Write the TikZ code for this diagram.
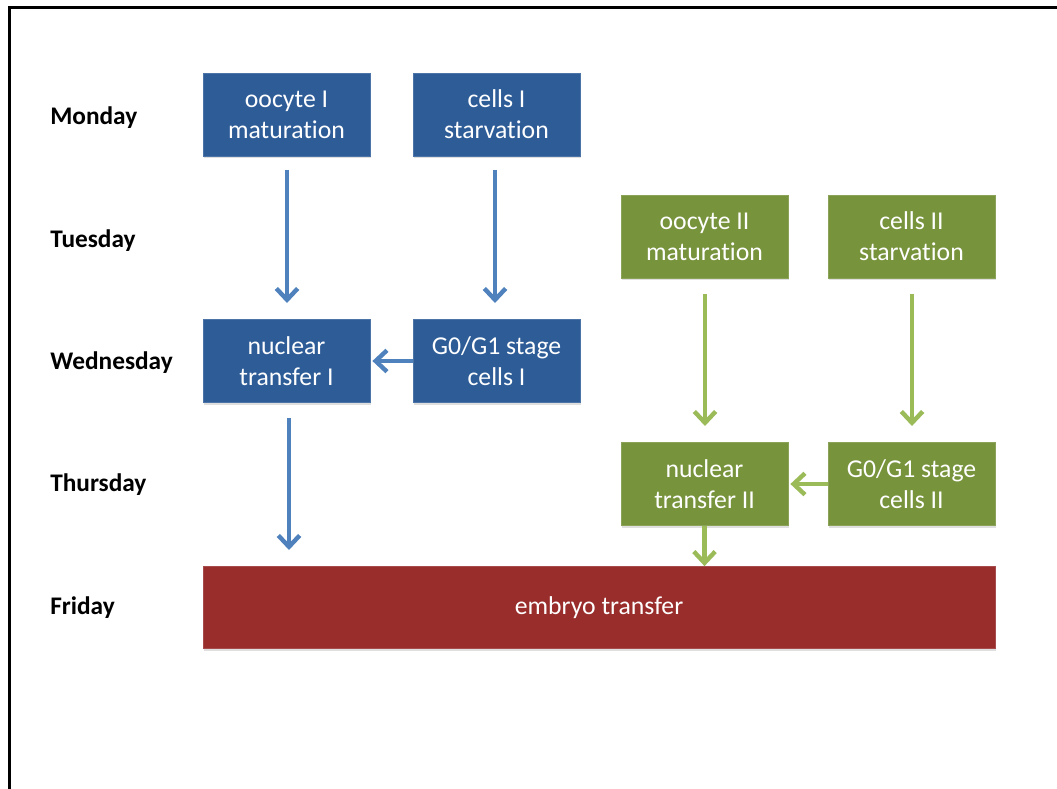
\documentclass[tikz,border=0pt]{standalone}
\usepackage{fontspec}
\setmainfont{Carlito}[Ligatures=NoCommon]
\usetikzlibrary{arrows.meta,shadows}
\definecolor{bluebox}{HTML}{2E5C97}
\definecolor{bluearr}{HTML}{4F81BD}
\definecolor{greenbox}{HTML}{77933C}
\definecolor{greenarr}{HTML}{9BBB59}
\definecolor{redbox}{HTML}{982D2C}
\tikzset{
  box/.style={minimum width=125.25pt, minimum height=62.25pt, inner sep=0pt,
    text=white, align=center, font=\fontsize{19.3}{23.25}\selectfont,
    drop shadow={opacity=0.25, shadow xshift=1pt, shadow yshift=-1.5pt}},
  bbox/.style={box, fill=bluebox, draw=bluebox!85!white, line width=0.6pt},
  gbox/.style={box, fill=greenbox, draw=greenbox!85!white, line width=0.6pt},
  day/.style={anchor=west, font=\bfseries\fontsize{19}{22}\selectfont, inner sep=0pt},
  barr/.style={draw=bluearr, line width=3.3pt, -{Straight Barb[length=8.5pt, width=16pt, line width=3.3pt]}},
  garr/.style={draw=greenarr, line width=3.3pt, -{Straight Barb[length=8.5pt, width=16pt, line width=3.3pt]}},
}
\begin{document}
\begin{tikzpicture}[x=0.75pt, y=-0.75pt]
\useasboundingbox (0,0) rectangle (1057,789);
\draw[line width=2.25pt] (9,789) -- (9,7) -- (1057,7);
% day labels
\node[day] (mon) at (50,118) {Monday};
\node[day] (tue) at (50,241) {Tuesday};
\node[day] (wed) at (50,363) {Wednesday};
\node[day] (thu) at (50,485) {Thursday};
\node[day] (fri) at (50,608) {Friday};
% blue boxes
\node[bbox] (o1) at (286.5,114.5) {oocyte I\\maturation};
\node[bbox] (c1) at (496.5,114.5) {cells I\\starvation};
\node[bbox] (n1) at (286.5,361) {nuclear\\transfer I};
\node[bbox] (g1) at (496.5,361) {G0/G1 stage\\cells I};
% green boxes
\node[gbox] (o2) at (704.5,236.5) {oocyte II\\maturation};
\node[gbox] (c2) at (911.5,236.5) {cells II\\starvation};
\node[gbox] (n2) at (704.5,484) {nuclear\\transfer II};
\node[gbox] (g2) at (911.5,484) {G0/G1 stage\\cells II};
% embryo transfer
\node[box, fill=redbox, draw=redbox!85!white, line width=0.6pt, minimum width=594pt, minimum height=61.5pt] (et) at (599,607.5) {embryo transfer};
% coordinates for arrow ends
\coordinate (a1s) at (287,170); \coordinate (a1e) at (287,303);
\coordinate (a2s) at (495,170); \coordinate (a2e) at (495,303);
\coordinate (a3s) at (289,418); \coordinate (a3e) at (289,550);
\coordinate (b1s) at (705,294); \coordinate (b1e) at (705,426);
\coordinate (b2s) at (912,294); \coordinate (b2e) at (912,426);
% blue arrows
\draw[barr] (a1s) -- (a1e);
\draw[barr] (a2s) -- (a2e);
\draw[barr] (g1.west) -- ([xshift=1.5pt]n1.east);
\draw[barr] (a3s) -- (a3e);
% green arrows
\draw[garr] (b1s) -- (b1e);
\draw[garr] (b2s) -- (b2e);
\draw[garr] (g2.west) -- ([xshift=1.5pt]n2.east);
\draw[garr] (n2.south) -- (et.north -| n2.south);
\end{tikzpicture}
\end{document}
